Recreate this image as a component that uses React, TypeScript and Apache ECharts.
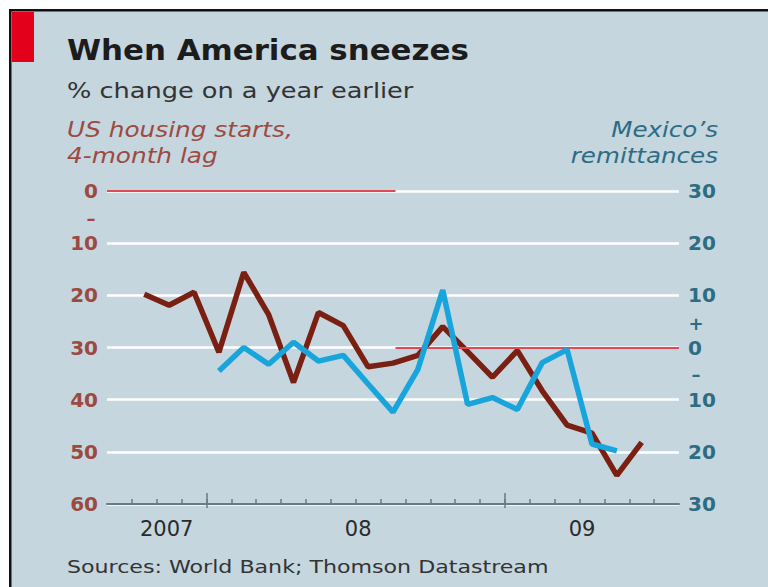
import React, { useEffect, useRef } from "react";
import * as echarts from "echarts";

// Months on the x axis (Sep 2007 .. Jul 2009)
const months = [
  "Sep 2007", "Oct 2007", "Nov 2007", "Dec 2007",
  "Jan 2008", "Feb 2008", "Mar 2008", "Apr 2008", "May 2008", "Jun 2008",
  "Jul 2008", "Aug 2008", "Sep 2008", "Oct 2008", "Nov 2008", "Dec 2008",
  "Jan 2009", "Feb 2009", "Mar 2009", "Apr 2009", "May 2009", "Jun 2009", "Jul 2009",
];

// US housing starts, 4-month lag, % change (left axis, inverted)
const housingStarts: (number | null)[] = [
  null, 19.8, 21.9, 19.4,
  30.9, 15.6, 23.7, 36.7, 23.3, 25.8, 33.7, 33.0, 31.5, 26.0, 30.8, 35.7,
  30.6, 38.3, 44.9, 46.4, 54.5, 48.2, null,
];

// Mexico's remittances, % change (right axis)
const remittances: (number | null)[] = [
  null, null, null, null,
  -4.5, 0.0, -3.2, 1.0, -2.6, -1.5, -7.0, -12.4, -4.2, 11.0, -10.9, -9.6,
  -11.9, -2.9, -0.4, -18.5, -19.8, null, null,
];

const yearLabels = ["2007", "08", "09"];
const yearLabelAt = [2.4, 10.1, 19.1];

const FONT = "'DejaVu Sans', 'Open Sans', sans-serif";
const BROWN_TXT = "#9c4a3f";
const TEAL_TXT = "#2d6c82";
const BG = "#c5d6df";
const AXIS_GRAY = "#6b7a80";

export default function App() {
  const ref = useRef<HTMLDivElement>(null);

  useEffect(() => {
    if (!ref.current) return;
    const chart = echarts.init(ref.current, undefined, { renderer: "svg" });

    const toPairs = (arr: (number | null)[]) =>
      arr
        .map((v, i) => (v == null ? null : [i + 0.5, v]))
        .filter((p) => p !== null) as number[][];

    const n = months.length;
    const minorTicks = months.map((_, i) => i).filter((i) => i > 0 && i < n);
    const majorTicks = months
      .map((m, i) => (m.startsWith("Jan") ? i : -1))
      .filter((i) => i >= 0);
    const split = 11.6;

    const baseX = {
      type: "value",
      min: 0,
      max: n,
      position: "bottom",
      splitLine: { show: false },
    };

    const option: any = {
      animation: false,
      backgroundColor: BG,
      textStyle: { fontFamily: FONT },
      grid: { left: 107, right: 89, top: 191, bottom: 83, containLabel: false },
      xAxis: [
        {
          ...baseX,
          axisLine: { show: true, onZero: false, lineStyle: { color: AXIS_GRAY, width: 2 } },
          axisTick: {
            show: true,
            inside: true,
            length: 5,
            customValues: minorTicks,
            lineStyle: { color: AXIS_GRAY, width: 1.5 },
          },
          axisLabel: {
            show: true,
            customValues: yearLabelAt,
            margin: 14,
            fontSize: 21,
            color: "#2a2a2a",
            fontFamily: FONT,
            formatter: (v: number) => {
              let best = 0;
              yearLabelAt.forEach((p, i) => {
                if (Math.abs(p - v) < Math.abs(yearLabelAt[best] - v)) best = i;
              });
              return yearLabels[best];
            },
          },
        },
        {
          ...baseX,
          axisLine: { show: false, onZero: false },
          axisLabel: { show: false },
          axisTick: {
            show: true,
            inside: true,
            length: 11,
            customValues: majorTicks,
            lineStyle: { color: AXIS_GRAY, width: 1.5 },
          },
        },
        {
          ...baseX,
          axisLine: { show: false, onZero: false },
          axisLabel: { show: false },
          axisTick: {
            show: true,
            inside: false,
            length: 4,
            customValues: majorTicks,
            lineStyle: { color: AXIS_GRAY, width: 1.5 },
          },
        },
      ],
      yAxis: [
        {
          type: "value",
          inverse: true,
          min: 0,
          max: 60,
          interval: 10,
          position: "left",
          axisLine: { show: false, onZero: false },
          axisTick: { show: false },
          splitLine: { show: true, lineStyle: { color: "#ffffff", width: 2.5 } },
          axisLabel: {
            margin: 9,
            fontSize: 20,
            fontWeight: "bold",
            color: BROWN_TXT,
            fontFamily: FONT,
          },
        },
        {
          type: "value",
          min: -30,
          max: 30,
          interval: 10,
          position: "right",
          axisLine: { show: false, onZero: false },
          axisTick: { show: false },
          splitLine: { show: false },
          axisLabel: {
            margin: 9,
            fontSize: 20,
            fontWeight: "bold",
            color: TEAL_TXT,
            fontFamily: FONT,
            formatter: (v: number) => String(Math.abs(v)),
          },
        },
      ],
      series: [
        {
          name: "US housing starts, 4-month lag",
          type: "line",
          xAxisIndex: 0,
          yAxisIndex: 0,
          data: toPairs(housingStarts),
          showSymbol: false,
          symbol: "none",
          z: 4,
          lineStyle: { color: "#7a2013", width: 5.5 },
          markLine: {
            silent: true,
            symbol: "none",
            label: { show: false },
            lineStyle: { color: "#e04a55", width: 2, type: "solid" },
            data: [[{ coord: [0, 0] }, { coord: [split, 0] }]],
          },
        },
        {
          name: "Mexico's remittances",
          type: "line",
          xAxisIndex: 0,
          yAxisIndex: 1,
          data: toPairs(remittances),
          showSymbol: false,
          symbol: "none",
          z: 5,
          lineStyle: { color: "#17a5dc", width: 5.5 },
          markLine: {
            silent: true,
            symbol: "none",
            label: { show: false },
            lineStyle: { color: "#e04a55", width: 2, type: "solid" },
            data: [[{ coord: [split, 0] }, { coord: [n, 0] }]],
          },
        },
      ],
      graphic: [
        { type: "rect", shape: { x: 0, y: 0, width: 768, height: 9 }, style: { fill: "#ffffff" }, z: 100 },
        { type: "rect", shape: { x: 0, y: 0, width: 9, height: 587 }, style: { fill: "#ffffff" }, z: 100 },
        { type: "rect", shape: { x: 9, y: 9, width: 759, height: 2.5 }, style: { fill: "#111111" }, z: 100 },
        { type: "rect", shape: { x: 9, y: 9, width: 2.5, height: 578 }, style: { fill: "#111111" }, z: 100 },
        { type: "rect", shape: { x: 12, y: 12, width: 22, height: 50 }, style: { fill: "#e3001b" }, z: 100 },
        {
          type: "text", x: 67, y: 50, scaleX: 1.065, z: 100,
          style: { text: "When America sneezes", fontSize: 29, fontWeight: "bold", fontFamily: FONT, fill: "#1c1c1c", verticalAlign: "middle" },
        },
        {
          type: "text", x: 67, y: 91, scaleX: 1.22, z: 100,
          style: { text: "% change on a year earlier", fontSize: 21, fontFamily: FONT, fill: "#333333", verticalAlign: "middle" },
        },
        {
          type: "text", x: 67, y: 130, scaleX: 1.18, z: 100,
          style: { text: "US housing starts,", fontSize: 21, fontStyle: "italic", fontFamily: FONT, fill: BROWN_TXT, verticalAlign: "middle" },
        },
        {
          type: "text", x: 67, y: 156, scaleX: 1.18, z: 100,
          style: { text: "4-month lag", fontSize: 21, fontStyle: "italic", fontFamily: FONT, fill: BROWN_TXT, verticalAlign: "middle" },
        },
        {
          type: "text", x: 718, y: 130, scaleX: 1.17, z: 100,
          style: { text: "Mexico\u2019s", fontSize: 21, fontStyle: "italic", fontFamily: FONT, fill: TEAL_TXT, align: "right", verticalAlign: "middle" },
        },
        {
          type: "text", x: 718, y: 156, scaleX: 1.17, z: 100,
          style: { text: "remittances", fontSize: 21, fontStyle: "italic", fontFamily: FONT, fill: TEAL_TXT, align: "right", verticalAlign: "middle" },
        },
        {
          type: "text", x: 91, y: 218, z: 100,
          style: { text: "\u2013", fontSize: 18, fontWeight: "bold", fontFamily: FONT, fill: BROWN_TXT, align: "center", verticalAlign: "middle" },
        },
        {
          type: "text", x: 696, y: 323, z: 100,
          style: { text: "+", fontSize: 18, fontWeight: "bold", fontFamily: FONT, fill: TEAL_TXT, align: "center", verticalAlign: "middle" },
        },
        {
          type: "text", x: 696, y: 374, z: 100,
          style: { text: "\u2013", fontSize: 18, fontWeight: "bold", fontFamily: FONT, fill: TEAL_TXT, align: "center", verticalAlign: "middle" },
        },
        {
          type: "text", x: 67, y: 567, scaleX: 1.23, z: 100,
          style: { text: "Sources: World Bank; Thomson Datastream", fontSize: 18, fontFamily: FONT, fill: "#333333", verticalAlign: "middle" },
        },
      ],
    };

    chart.setOption(option);
    return () => chart.dispose();
  }, []);

  return (
    <div
      ref={ref}
      style={{ position: "fixed", left: 0, top: 0, width: 768, height: 587, background: "#ffffff" }}
    />
  );
}
